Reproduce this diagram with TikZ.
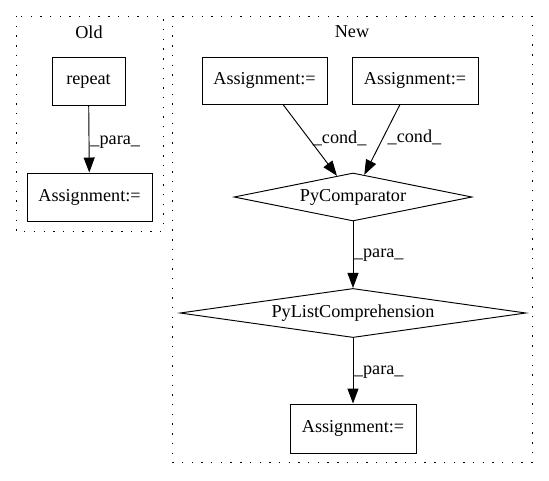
\documentclass[tikz,border=0pt]{standalone}
\usepackage{fontspec}
\setmainfont{Liberation Serif}
\usetikzlibrary{shapes.geometric,arrows.meta,calc}
\begin{document}
\begin{tikzpicture}[x=1pt,y=-1pt,
  font=\fontsize{18.2}{22}\selectfont,
  box/.style={draw,line width=0.95pt,rectangle,inner sep=0pt,minimum height=48pt},
  dia/.style={draw,line width=0.95pt,diamond,inner sep=0pt,aspect=5,minimum height=48pt},
  cluster/.style={draw,line width=1pt,dash pattern=on 1.4pt off 8.3pt},
  edge/.style={line width=0.95pt,-{Triangle[length=15pt,width=11pt]}},
  lbl/.style={inner sep=0pt,anchor=west}]
\useasboundingbox (0,0) rectangle (549,480);
% clusters
\draw[cluster] (16,16) rectangle (163,231);
\draw[cluster] (172,16) rectangle (532,462);
\node (oldlbl) at (89,32) {Old};
\node (newlbl) at (352,32) {New};
% Old nodes
\node[box,minimum width=73pt] (repeat) at (88.5,81) {repeat};
\node[box,minimum width=125pt] (oldA) at (89.5,197) {Assignment:=};
% New nodes
\node[box,minimum width=125pt,minimum height=47pt] (newA1) at (264.5,80.5) {Assignment:=};
\node[box,minimum width=126pt,minimum height=47pt] (newA2) at (415,80.5) {Assignment:=};
\node[dia,minimum width=238pt] (cmp) at (353,197) {PyComparator};
\node[dia,minimum width=346pt] (lc) at (353,313) {PyListComprehension};
\node[box,minimum width=126pt,minimum height=49pt] (newA3) at (353,428.5) {Assignment:=};
% edges
\draw[edge] (repeat) -- node[lbl,pos=0.54,xshift=1pt] {\_para\_} (oldA);
\draw[edge] ($(newA1.south)+(18.5,0)$) -- node[lbl,pos=0.47,xshift=4pt] {\_cond\_} (cmp);
\draw[edge] ($(newA2.south)+(-15,0)$) -- node[lbl,pos=0.47,xshift=4pt] {\_cond\_} (cmp);
\draw[edge] (cmp) -- node[lbl,pos=0.5,xshift=0.5pt] {\_para\_} (lc);
\draw[edge] (lc) -- node[lbl,pos=0.52,xshift=0.5pt] {\_para\_} (newA3);
\end{tikzpicture}
\end{document}
